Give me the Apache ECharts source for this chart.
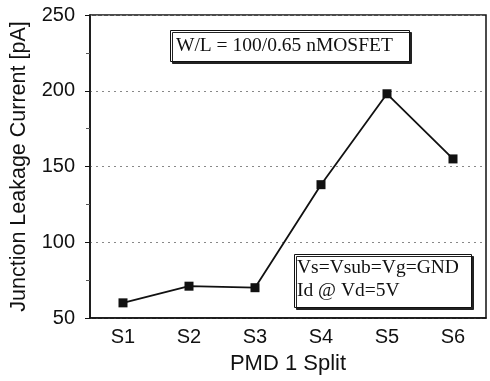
<!DOCTYPE html>
<html>
<head>
<meta charset="utf-8">
<script src="https://cdn.jsdelivr.net/npm/echarts@6/dist/echarts.min.js"></script>
<style>
html, body { margin: 0; padding: 0; background: #fff; }
#chart { width: 490px; height: 381px; }
</style>
</head>
<body>
<div id="chart"></div>
<script>
var splits = ['S1', 'S2', 'S3', 'S4', 'S5', 'S6'];
var leakage = [60, 71, 70, 138, 198, 155];
var yTicks = [50, 100, 150, 200, 250];

var chart = echarts.init(document.getElementById('chart'));
var ink = '#111';
var sans = '"Liberation Sans", Arial, sans-serif';
var serif = '"Liberation Serif", "Times New Roman", serif';

chart.setOption({
    animation: false,
    backgroundColor: '#fff',
    grid: { left: 89, right: 4, top: 15, bottom: 63, show: true, borderColor: ink, borderWidth: 1.5 },
    xAxis: {
        type: 'category',
        data: splits,
        boundaryGap: true,
        name: 'PMD 1 Split',
        nameLocation: 'middle',
        nameGap: 35,
        nameTextStyle: { color: ink, fontSize: 22, fontFamily: sans },
        axisLine: { lineStyle: { color: ink, width: 1.5 } },
        axisTick: { alignWithLabel: true, length: 5, lineStyle: { color: ink } },
        axisLabel: { color: ink, fontSize: 20, fontFamily: sans, margin: 9 },
        splitLine: { show: false }
    },
    yAxis: {
        type: 'value',
        min: yTicks[0],
        max: yTicks[yTicks.length - 1],
        interval: 50,
        name: 'Junction Leakage Current [pA]',
        nameLocation: 'middle',
        nameGap: 60,
        nameTextStyle: { color: ink, fontSize: 21.5, fontFamily: sans },
        axisLine: { show: true, lineStyle: { color: ink, width: 1.5 } },
        axisTick: { show: true, length: 5, lineStyle: { color: ink } },
        minorTick: { show: true, splitNumber: 2, length: 4, lineStyle: { color: '#555' } },
        axisLabel: { color: ink, fontSize: 20, fontFamily: sans, margin: 15 },
        splitLine: { show: true, lineStyle: { color: '#888', type: [2, 4], width: 1 } }
    },
    series: [{
        type: 'line',
        data: leakage,
        symbol: 'rect',
        symbolSize: 9,
        itemStyle: { color: ink },
        lineStyle: { color: ink, width: 1.8 }
    }],
    graphic: [
        {
            type: 'rect', left: 170, top: 30,
            shape: { width: 239, height: 31 },
            style: { fill: '#fff', stroke: ink, lineWidth: 1, shadowColor: '#222', shadowOffsetX: 2, shadowOffsetY: 2 }
        },
        {
            type: 'text', left: 176, top: 36,
            style: { text: 'W/L = 100/0.65 nMOSFET', font: '19.5px ' + serif, fill: ink }
        },
        {
            type: 'rect', left: 294, top: 254,
            shape: { width: 177, height: 53 },
            style: { fill: '#fff', stroke: ink, lineWidth: 1, shadowColor: '#222', shadowOffsetX: 2, shadowOffsetY: 2 }
        },
        {
            type: 'text', left: 297, top: 256,
            style: { text: 'Vs=Vsub=Vg=GND\nId @ Vd=5V', font: '19.5px ' + serif, lineHeight: 23, fill: ink }
        }
    ]
});
</script>
</body>
</html>
